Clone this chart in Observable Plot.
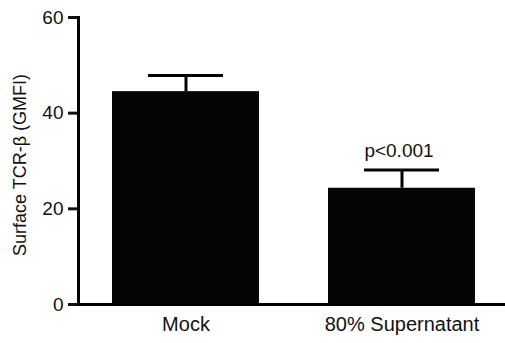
<!DOCTYPE html>
<html>
<head>
<meta charset="utf-8">
<script src="https://cdn.jsdelivr.net/npm/d3@7"></script>
<script src="https://cdn.jsdelivr.net/npm/@observablehq/plot@0.6"></script>
<style>
  html, body { margin: 0; padding: 0; background: #fff; }
  #chart svg { display: block; }
</style>
</head>
<body>
<div id="chart"></div>
<script>
// Surface TCR-β (GMFI): mean with upper error bar per condition
const groups = ["Mock", "80% Supernatant"];
const means = [44.5, 24.3];
const errors = [3.4, 3.8];
const annotations = ["", "p<0.001"];
const yTicks = [0, 20, 40, 60];

const rows = groups.map((g, i) => ({
  group: g,
  mean: means[i],
  top: means[i] + errors[i],
  note: annotations[i]
}));

const font = "'Liberation Sans', Arial, Helvetica, sans-serif";

const chart = Plot.plot({
  width: 505,
  height: 343,
  marginLeft: 78,
  marginRight: 0,
  marginTop: 17,
  marginBottom: 39,
  style: { fontFamily: font, color: "#111", background: "#fff" },
  x: { type: "band", domain: groups, range: [77, 509], paddingInner: 0.32, paddingOuter: 0.16, label: null },
  y: { domain: [0, 60], label: null },
  marks: [
    // error bar stems and caps
    Plot.ruleX(rows, { x: "group", y1: "mean", y2: "top", stroke: "#000", strokeWidth: 3 }),
    Plot.tickY(rows, { x: "group", y: "top", stroke: "#000", strokeWidth: 3, insetLeft: 36, insetRight: 36 }),
    Plot.barY(rows, { x: "group", y: "mean", fill: "#050505" }),
    Plot.text(rows.filter(d => d.note), {
      x: "group", y: "top", text: "note", dy: -19, dx: -3,
      fontSize: 19, fill: "#111", lineAnchor: "middle"
    }),
    Plot.axisY(yTicks, {
      tickSize: 10, tickPadding: 5, strokeWidth: 3, fontSize: 19, label: null
    }),
    Plot.axisX({ tickSize: 0, tickPadding: 12, fontSize: 20, label: null }),
    Plot.frame({ anchor: "left", stroke: "#000", strokeWidth: 3 }),
    Plot.ruleY([0], { stroke: "#000", strokeWidth: 3 }),
    Plot.text(["Surface TCR-β (GMFI)"], {
      frameAnchor: "left", textAnchor: "middle", rotate: -90, dx: -58, dy: 4,
      fontSize: 18, fill: "#111", lineAnchor: "middle"
    })
  ]
});

document.getElementById("chart").append(chart);
</script>
</body>
</html>
